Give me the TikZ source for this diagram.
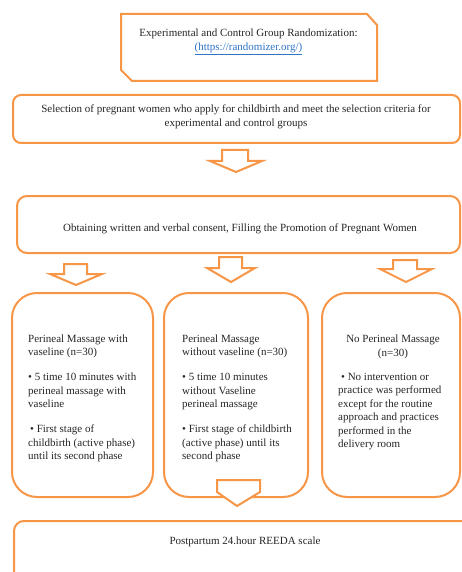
\documentclass[tikz,border=0pt]{standalone}
\usepackage{fontspec}
\setmainfont{Liberation Serif}
\definecolor{orng}{HTML}{F79646}
\definecolor{lnk}{HTML}{2F74C7}
\begin{document}
\begin{tikzpicture}[x=1pt,y=-1pt,
  box/.style={draw=orng, line width=2pt, fill=white, inner sep=0pt},
  txt/.style={font=\fontsize{11}{13.5}\selectfont, inner sep=0pt, text=black!85},
  blk/.style={draw=orng, line width=2pt, fill=white, line join=miter}]
\clip (0,0) rectangle (462,572);
\fill[white] (0,0) rectangle (462,572);
% top snipped box
\draw[blk] (121,14) -- (367,14) -- (377,25) -- (377,81) -- (132,81) -- (121,70) -- cycle;
\node[txt, align=center] (t1) at (248.5,42) {Experimental and Control Group Randomization:\\ \textcolor{lnk}{\underline{(https://randomizer.org/)}}};
% selection box
\node[box, rounded corners=8pt, minimum width=447pt, minimum height=48pt] (b2) at (236.5,119) {};
\node[txt, align=center] (t2) at (236,117) {Selection of pregnant women who apply for childbirth and meet the selection criteria for\\ experimental and control groups};
% arrow 1
\draw[blk] (222,150) -- (248,150) -- (248,161) -- (262,161) -- (236,172) -- (210,161) -- (222,161) -- cycle;
% consent box
\node[box, rounded corners=10pt, minimum width=443pt, minimum height=57pt] (b3) at (238.5,224.5) {};
\node[txt] (t3) at (240,229) {Obtaining written and verbal consent, Filling the Promotion of Pregnant Women};
% row arrows
\draw[blk] (64,264) -- (87,264) -- (87,274) -- (102,274) -- (76,285) -- (50,274) -- (64,274) -- cycle;
\draw[blk] (219,257) -- (242,257) -- (242,268) -- (255,268) -- (231,282) -- (207,268) -- (219,268) -- cycle;
\draw[blk] (393,260) -- (417,260) -- (417,269) -- (432,269) -- (406,282) -- (380,269) -- (393,269) -- cycle;
% group boxes
\node[box, rounded corners=25pt, minimum width=141pt, minimum height=204pt] (g1) at (82.5,395) {};
\node[box, rounded corners=25pt, minimum width=144pt, minimum height=204pt] (g2) at (236,395) {};
\node[box, rounded corners=25pt, minimum width=138pt, minimum height=204pt] (g3) at (391,395) {};
\node[txt, align=left, anchor=north west] (t4) at (28,334.5) {Perineal Massage with\\ vaseline (n=30)\\[11.5pt] • 5 time 10 minutes with\\ perineal massage with\\ vaseline\\[11.5pt] \hspace{2pt}• First stage of\\ childbirth (active phase)\\ until its second phase};
\node[txt, align=left, anchor=north west] (t5) at (182,334.5) {Perineal Massage\\ without vaseline (n=30)\\[11.5pt] • 5 time 10 minutes\\ without Vaseline\\ perineal massage\\[11.5pt] • First stage of childbirth\\ (active phase) until its\\ second phase};
\node[txt, align=center, anchor=north] (t6) at (393,335) {No Perineal Massage\\ (n=30)};
\node[txt, align=left, anchor=north west] (t7) at (338,373) {\hspace{3pt}• No intervention or\\ practice was performed\\ except for the routine\\ approach and practices\\ performed in the\\ delivery room};
% bottom arrow
\draw[blk] (217,480) -- (260,480) -- (260,492) -- (237,506) -- (217,492) -- cycle;
% bottom box
\node[box, rounded corners=10pt, minimum width=470pt, minimum height=80pt] (b4) at (249,561) {};
\node[txt] (t8) at (245,542) {Postpartum 24.hour REEDA scale};
\end{tikzpicture}
\end{document}
